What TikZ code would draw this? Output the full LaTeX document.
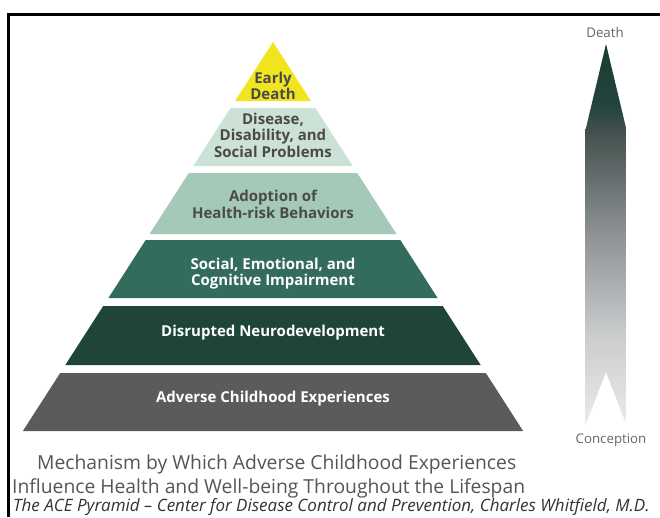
\documentclass[tikz,border=0pt]{standalone}
\usepackage{fontspec}
\setmainfont{Open Sans}
\usetikzlibrary{calc}
\definecolor{lyellow}{HTML}{F0E51E}
\definecolor{lmint}{HTML}{CCE2D7}
\definecolor{lsage}{HTML}{A5C9B9}
\definecolor{lteal}{HTML}{336B5C}
\definecolor{ldark}{HTML}{1F4438}
\definecolor{lgray}{HTML}{5B5B5B}
\definecolor{txtdark}{HTML}{4A4A4A}
\definecolor{capgray}{HTML}{555555}
\definecolor{capdark}{HTML}{333333}
\definecolor{shA}{HTML}{EBEBEB}
\definecolor{shB}{HTML}{C9CBCC}
\definecolor{shC}{HTML}{8E9295}
\definecolor{shD}{HTML}{465350}
\definecolor{shE}{HTML}{23443E}
\definecolor{shF}{HTML}{173C31}
\pgfdeclareverticalshading{arrowshade}{100bp}{color(0bp)=(shA); color(25bp)=(shA); color(37bp)=(shB); color(50bp)=(shC); color(63bp)=(shD); color(67bp)=(shE); color(75bp)=(shF); color(100bp)=(shF)}
\newcommand\pyrlayer[3]{%
  \fill[#3] ({273-0.643*(#1-42)},#1) -- ({273+0.643*(#1-42)},#1)
    -- ({273+0.643*(#2-42)},#2) -- ({273-0.643*(#2-42)},#2) -- cycle;}
\tikzset{
  laytext/.style={font=\bfseries\fontsize{15}{16.5}\selectfont, align=center, inner sep=0pt},
  darktext/.style={laytext, text=txtdark},
  lighttext/.style={laytext, text=white},
  axislabel/.style={font=\fontsize{13.3}{14}\selectfont, text=capgray!90, inner sep=0pt},
}
\begin{document}
\begin{tikzpicture}[x=1pt,y=-1pt]
\useasboundingbox (0,0) rectangle (660,517);
\fill[white] (0,0) rectangle (660,517);
% frame
\draw[line width=3pt] (8,517) -- (8,14) -- (660,14);
% pyramid
\fill[lyellow] (273,42) -- ({273+0.643*(101-42)},101) -- ({273-0.643*(101-42)},101) -- cycle;
\pyrlayer{108}{166}{lmint}
\pyrlayer{173}{234}{lsage}
\pyrlayer{240}{298}{lteal}
\pyrlayer{306}{365}{ldark}
\pyrlayer{373}{431}{lgray}
\node[darktext, font=\bfseries\fontsize{15}{14.5}\selectfont] (early) at (273,86) {Early\\Death};
\node[darktext] (disease) at (273,135) {Disease,\\Disability, and\\Social Problems};
\node[darktext] (adopt) at (273,204.5) {Adoption of\\Health-risk Behaviors};
\node[lighttext] (social) at (273,273.5) {Social, Emotional, and\\Cognitive Impairment};
\node[lighttext] (neuro) at (273,333) {Disrupted Neurodevelopment};
\node[lighttext] (ace) at (273,399) {Adverse Childhood Experiences};
% lifespan arrow
\shade[shading=arrowshade] (606,44) -- (626.5,130) -- (626.5,425) -- (606,372) -- (585.5,425) -- (585.5,130) -- cycle;
\node[axislabel] (death) at (605,33) {Death};
\node[axislabel] (conception) at (611,440) {Conception};
% caption
\node[anchor=west, inner sep=0pt, text=capgray, font=\fontsize{19.3}{22}\selectfont] (cap1) at (37,464) {Mechanism by Which Adverse Childhood Experiences};
\node[anchor=west, inner sep=0pt, text=capgray, font=\fontsize{19.3}{22}\selectfont] (cap2) at (12,488) {Influence Health and Well-being Throughout the Lifespan};
\node[anchor=west, inner sep=0pt, text=capdark, font=\itshape\fontsize{17}{16}\selectfont] (cap3) at (13,507.5) {The ACE Pyramid -- Center for Disease Control and Prevention, Charles Whitfield, M.D.};
\end{tikzpicture}
\end{document}
